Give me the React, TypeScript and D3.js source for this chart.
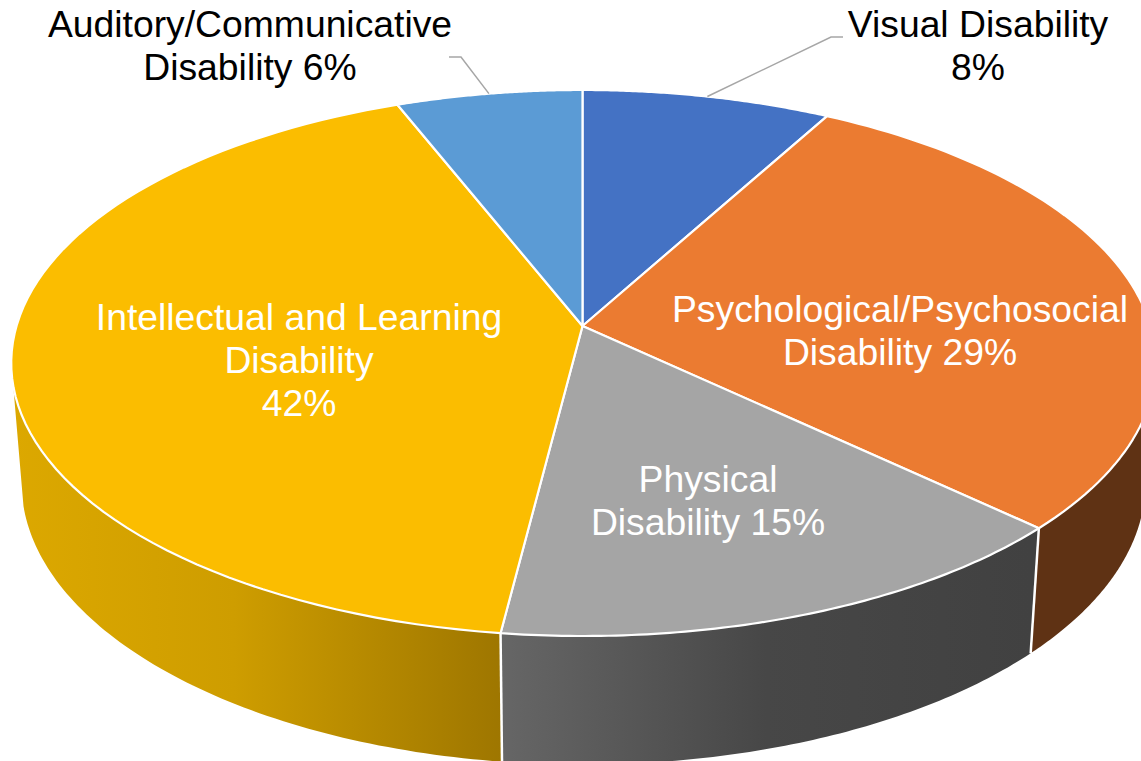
import React from "react";
import * as d3 from "d3";

const categories = [
  "Visual Disability",
  "Psychological/Psychosocial Disability",
  "Physical Disability",
  "Intellectual and Learning Disability",
  "Auditory/Communicative Disability",
];
const values = [8, 29, 15, 42, 6];
const topColors = ["#4472C4", "#EB7B31", "#A5A5A5", "#FBBD00", "#5B9BD5"];
const labelLines = [
  ["Visual Disability", "8%"],
  ["Psychological/Psychosocial", "Disability 29%"],
  ["Physical", "Disability 15%"],
  ["Intellectual and Learning", "Disability", "42%"],
  ["Auditory/Communicative", "Disability 6%"],
];
const labelPos: [number, number][] = [
  [978, 37],
  [900, 322],
  [708, 492],
  [299, 330],
  [250, 37],
];
const labelColor = ["#000", "#fff", "#fff", "#fff", "#000"];

const W = 1141;
const H = 761;
const CX = 582.5;
const CY = 326;
const A_LEFT = 566;
const A_RIGHT = 568;
const B = 268;
const K = 0.1355;
const SIL = 0.2173; // depth coordinate of the side silhouette

// perspective projection of a point of the unit disc at angle t (clockwise from top)
function top(t: number): [number, number] {
  const u = Math.sin(t);
  const v = -Math.cos(t);
  const d = 1 - K * v;
  return [CX + ((u < 0 ? A_LEFT : A_RIGHT) * u) / d, CY + (B * v) / d];
}
function bottom(t: number): [number, number] {
  const [x, y] = top(t);
  return [CX + 0.982 * (x - CX), 652 + 1.033 * (y - 527)];
}

const silA = Math.acos(-SIL); // right silhouette angle
const silB = 2 * Math.PI - silA; // left silhouette angle

const pie = d3.pie<number>().sort(null).value((d) => d);
const arcs = pie(values);
const line = d3.line<[number, number]>();

function sample(a: number, b: number, n = 80): number[] {
  return d3.range(n + 1).map((i) => d3.interpolateNumber(a, b)(i / n));
}

function topPath(a: number, b: number) {
  const pts: [number, number][] = [[CX, CY], ...sample(a, b).map(top)];
  return line(pts) + "Z";
}

function wallPath(a: number, b: number) {
  const s = sample(a, b);
  const pts: [number, number][] = [...s.map(top), ...s.slice().reverse().map(bottom)];
  return line(pts) + "Z";
}

const leaders: { idx: number; elbow: [number, number]; end: [number, number] }[] = [
  { idx: 0, elbow: [831, 37], end: [843, 37] },
  { idx: 4, elbow: [461, 57], end: [449, 57] },
];

const walls = [
  { idx: 1, fill: "#5F3214" },
  { idx: 2, fill: "url(#grayWall)" },
  { idx: 3, fill: "url(#yellowWall)" },
];

export default function App() {
  return (
    <svg
      width={W}
      height={H}
      viewBox={`0 0 ${W} ${H}`}
      style={{ position: "fixed", left: 0, top: 0, background: "#fff" }}
      fontFamily="'Liberation Sans', Arial, sans-serif"
    >
      <defs>
        <linearGradient id="yellowWall" gradientUnits="userSpaceOnUse" x1={14} x2={502} y1={0} y2={0}>
          <stop offset="0" stopColor="#DCA800" />
          <stop offset="0.45" stopColor="#CE9D00" />
          <stop offset="1" stopColor="#9E7600" />
        </linearGradient>
        <linearGradient id="grayWall" gradientUnits="userSpaceOnUse" x1={502} x2={1030} y1={0} y2={0}>
          <stop offset="0" stopColor="#666666" />
          <stop offset="0.5" stopColor="#474747" />
          <stop offset="1" stopColor="#414141" />
        </linearGradient>
      </defs>
      {walls.map(({ idx, fill }) => {
        const arc = arcs[idx];
        const a = Math.max(arc.startAngle, silA);
        const b = Math.min(arc.endAngle, silB);
        return <path key={categories[idx]} d={wallPath(a, b)} fill={fill} />;
      })}
      {[arcs[1].endAngle, arcs[2].endAngle].map((t) => (
        <path key={t} d={line([top(t), bottom(t)]) ?? ""} stroke="#fff" strokeWidth={2.5} fill="none" />
      ))}
      {arcs.map((arc, i) => (
        <path
          key={categories[i]}
          d={topPath(arc.startAngle, arc.endAngle)}
          fill={topColors[i]}
          stroke="#fff"
          strokeWidth={2.2}
          strokeLinejoin="round"
        />
      ))}
      {leaders.map(({ idx, elbow, end }) => {
        const arc = arcs[idx];
        const start = top((arc.startAngle + arc.endAngle) / 2);
        return (
          <path key={idx} d={line([start, elbow, end]) ?? ""} fill="none" stroke="#A6A6A6" strokeWidth={1.5} />
        );
      })}
      {labelLines.map((lines, i) => (
        <text
          key={i}
          x={labelPos[i][0]}
          y={labelPos[i][1]}
          fontSize={37.3}
          textAnchor="middle"
          fill={labelColor[i]}
        >
          {lines.map((l, j) => (
            <tspan key={j} x={labelPos[i][0]} dy={j === 0 ? 0 : 43}>
              {l}
            </tspan>
          ))}
        </text>
      ))}
    </svg>
  );
}
